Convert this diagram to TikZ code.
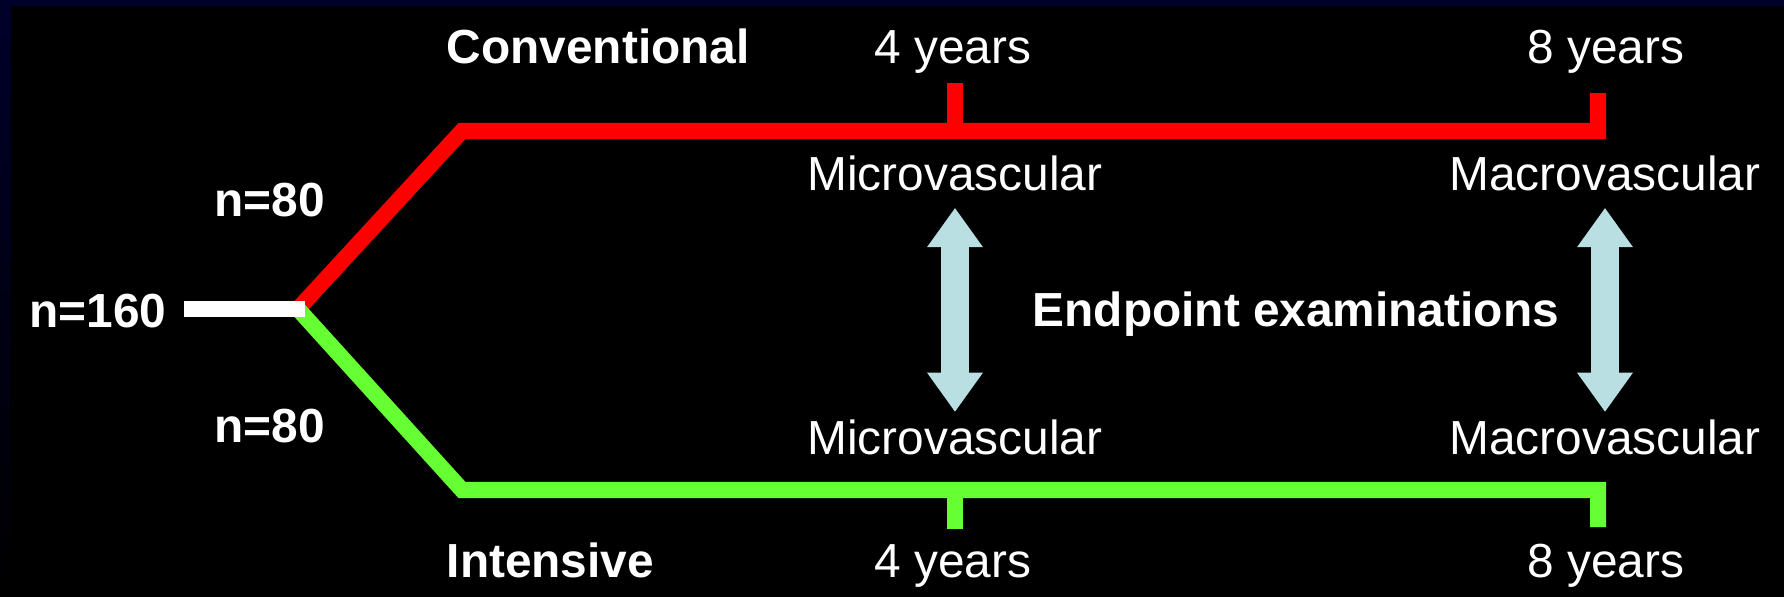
\documentclass[tikz,border=0pt]{standalone}
\usepackage{fontspec}
\setmainfont{Liberation Sans}
\usetikzlibrary{arrows.meta}
\definecolor{navy}{RGB}{0,0,60}
\definecolor{armgreen}{RGB}{102,255,51}
\definecolor{examblue}{RGB}{185,223,227}
\begin{document}
\begin{tikzpicture}[x=0.01cm,y=-0.01cm,
  lbl/.style={text=white,inner sep=0pt,font=\fontsize{13.6}{16}\selectfont},
  boldlbl/.style={lbl,font=\fontsize{13.6}{16}\selectfont\bfseries},
  arm/.style={line width=0.16cm,line join=miter},
  examarrow/.style={line width=0.28cm,examblue,
    {Triangle[length=0.39cm,width=0.56cm,line width=0pt]}-{Triangle[length=0.39cm,width=0.56cm,line width=0pt]},
    shorten <=0.17cm,shorten >=0.07cm}]
  % Fond
  \useasboundingbox (0,0) rectangle (1784,597);
  \fill[black] (0,0) rectangle (1784,597);
  \shade[top color=navy!70!black,bottom color=navy!140] (0,0) rectangle (11,597);
  \fill[navy!70!black] (0,0) rectangle (1784,6);

  % Bras de l'essai
  \coordinate (split) at (298,309);
  \draw[arm,red] (split) -- (462,131) -- (1598,131) -- (1598,93);
  \draw[arm,red] (955,131) -- (955,83);
  \draw[arm,armgreen] (split) -- (462,490) -- (1598,490) -- (1598,527);
  \draw[arm,armgreen] (955,490) -- (955,529);
  \draw[arm,white] (184,309) -- (305,309);

  % Effectifs
  \node[boldlbl,anchor=base east] (n160) at (167,327) {n=160};
  \node[boldlbl,anchor=base west] (n80c) at (214,216) {n=80};
  \node[boldlbl,anchor=base west] (n80i) at (214,442) {n=80};
  \node[boldlbl,anchor=base west] (conv) at (446,63) {Conventional};
  \node[boldlbl,anchor=base west] (intens) at (446,577) {Intensive};

  % Durees
  \node[lbl,anchor=base] (yr4c) at (953,63) {4 years};
  \node[lbl,anchor=base] (yr8c) at (1606,63) {8 years};
  \node[lbl,anchor=base] (yr4i) at (953,577) {4 years};
  \node[lbl,anchor=base] (yr8i) at (1606,577) {8 years};

  % Criteres
  \node[lbl,anchor=base] (micc) at (955,190) {Microvascular};
  \node[lbl,anchor=base] (macc) at (1605,190) {Macrovascular};
  \node[lbl,anchor=base] (mici) at (955,454) {Microvascular};
  \node[lbl,anchor=base] (maci) at (1605,454) {Macrovascular};
  \draw[examarrow] (micc) -- (mici);
  \draw[examarrow] (macc) -- (maci);
  \node[boldlbl,anchor=base west] (endp) at (1032,326) {Endpoint examinations};
\end{tikzpicture}
\end{document}
